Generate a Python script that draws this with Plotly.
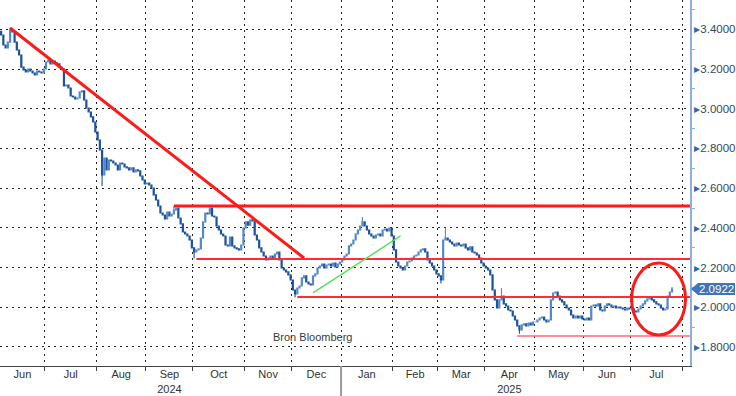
import numpy as np
import pandas as pd
import plotly.graph_objects as go

START = "2024-06-03"
END = "2025-07-25"

# daily closes per month (trading days)
jun24 = [3.372, 3.321, 3.306, 3.336, 3.397, 3.387, 3.336, 3.296, 3.271, 3.210,
         3.195, 3.185, 3.200, 3.190, 3.180, 3.170, 3.190, 3.185, 3.180, 3.200]
jul24 = [3.236, 3.244, 3.226, 3.241, 3.231, 3.226, 3.210, 3.200, 3.115, 3.120,
         3.105, 3.064, 3.059, 3.049, 3.054, 3.085, 3.090, 3.044, 3.004, 2.984,
         2.959, 2.933, 2.883]
aug24 = [2.843, 2.792, 2.666, 2.752, 2.692, 2.742, 2.737, 2.727, 2.717, 2.692,
         2.727, 2.722, 2.707, 2.702, 2.692, 2.702, 2.682, 2.692, 2.687, 2.661,
         2.641, 2.621]
sep24 = [2.626, 2.616, 2.601, 2.566, 2.540, 2.510, 2.475, 2.465, 2.445, 2.480,
         2.460, 2.470, 2.490, 2.500, 2.450, 2.420, 2.379, 2.369, 2.359, 2.339,
         2.299]
oct24 = [2.278, 2.289, 2.294, 2.349, 2.430, 2.475, 2.470, 2.500, 2.460, 2.455,
         2.409, 2.389, 2.369, 2.359, 2.314, 2.309, 2.354, 2.309, 2.299, 2.294,
         2.289, 2.314, 2.399]
nov24 = [2.430, 2.414, 2.440, 2.435, 2.364, 2.339, 2.299, 2.278, 2.258, 2.238,
         2.248, 2.258, 2.248, 2.268, 2.278, 2.238, 2.198, 2.188, 2.178, 2.163,
         2.137]
dec24 = [2.087, 2.067, 2.097, 2.107, 2.148, 2.158, 2.127, 2.117, 2.112, 2.158,
         2.168, 2.198, 2.208, 2.218, 2.198, 2.213, 2.218, 2.208, 2.223, 2.203,
         2.218, 2.228]
jan25 = [2.238, 2.258, 2.268, 2.309, 2.319, 2.339, 2.369, 2.389, 2.409, 2.430,
         2.409, 2.389, 2.369, 2.359, 2.349, 2.364, 2.369, 2.359, 2.389, 2.394,
         2.384, 2.399, 2.359]
feb25 = [2.289, 2.228, 2.208, 2.198, 2.188, 2.208, 2.228, 2.233, 2.248, 2.258,
         2.263, 2.278, 2.289, 2.294, 2.278, 2.238, 2.223, 2.208, 2.188, 2.168]
mar25 = [2.158, 2.137, 2.339, 2.349, 2.339, 2.329, 2.319, 2.309, 2.324, 2.314,
         2.309, 2.319, 2.299, 2.289, 2.304, 2.278, 2.273, 2.263, 2.248, 2.223,
         2.208]
apr25 = [2.198, 2.188, 2.163, 2.087, 2.037, 1.996, 2.037, 2.057, 2.017, 2.006,
         1.986, 1.981, 1.956, 1.936, 1.906, 1.886, 1.911, 1.916, 1.906, 1.921,
         1.911, 1.926]
may25 = [1.926, 1.936, 1.946, 1.951, 1.936, 1.926, 1.936, 2.037, 2.072, 2.077,
         2.057, 2.037, 2.027, 2.011, 1.996, 1.986, 1.961, 1.946, 1.956, 1.946,
         1.956, 1.941]
jun25 = [1.936, 1.946, 1.936, 2.006, 2.011, 2.006, 2.017, 1.986, 1.981, 2.006,
         2.017, 2.011, 2.001, 2.006, 1.996, 2.001, 1.996, 1.991, 1.986, 1.996,
         1.991]
jul25 = [1.991, 1.981, 1.976, 1.991, 2.006, 2.017, 2.032, 2.042, 2.047, 2.037,
         2.027, 2.017, 2.011, 1.996, 1.986, 1.991, 2.057, 2.077, 2.0922]

first_open = 3.390
spike_highs = {"2024-06-07": 3.410, "2024-09-18": 2.512, "2024-10-10": 2.518,
               "2025-01-14": 2.455, "2025-03-06": 2.400, "2025-04-10": 2.097,
               "2025-07-25": 2.102}
spike_lows = {"2024-08-05": 2.611, "2024-10-01": 2.245, "2024-12-03": 2.050,
              "2025-03-04": 2.120, "2025-04-22": 1.866}

closes = (jun24 + jul24 + aug24 + sep24 + oct24 + nov24 + dec24 + jan25 +
          feb25 + mar25 + apr25 + may25 + jun25 + jul25)
dates = pd.bdate_range(START, END)
assert len(dates) == len(closes), (len(dates), len(closes))

opens = [first_open] + closes[:-1]
highs = [max(o, c) for o, c in zip(opens, closes)]
lows = [min(o, c) for o, c in zip(opens, closes)]
dstr = [d.strftime("%Y-%m-%d") for d in dates]
for d, v in spike_highs.items():
    i = dstr.index(d)
    highs[i] = max(highs[i], v)
for d, v in spike_lows.items():
    i = dstr.index(d)
    lows[i] = min(lows[i], v)


def pos(d):
    return int(np.busday_count(START, pd.Timestamp(d).strftime("%Y-%m-%d")))


xidx = list(range(len(closes)))

# month ticks
bounds = [pos(m) - 0.5 for m in pd.date_range("2024-07-01", "2025-08-01", freq="MS")]
label_months = pd.date_range("2024-06-01", "2025-07-01", freq="MS")
centers, texts = [], []
for m in label_months:
    a = max(pos(m), 0) - 0.5
    b = pos(m + pd.offsets.MonthBegin(1)) - 0.5
    centers.append((a + b) / 2)
    t = m.strftime("%b")
    if m.month == 9 and m.year == 2024:
        t += "<br>2024"
    if m.month == 4 and m.year == 2025:
        t += "<br>2025"
    texts.append(t)

ymaj = [1.8, 2.0, 2.2, 2.4, 2.6, 2.8, 3.0, 3.2, 3.4]
ymin = [1.7, 1.9, 2.1, 2.3, 2.5, 2.7, 2.9, 3.1, 3.3, 3.5]
ytext = ["<span style='color:#2f66b3'>\u25B8</span>%.4f" % v for v in ymaj]

fig = go.Figure(go.Candlestick(
    x=xidx, open=opens, high=highs, low=lows, close=closes,
    increasing=dict(line=dict(color="#5589c6", width=1.1), fillcolor="#9bbde6"),
    decreasing=dict(line=dict(color="#1b549c", width=1.1), fillcolor="#2a64aa"),
    whiskerwidth=0, hoverinfo="skip"))

RED = "#ff1a1a"
right = pos("2025-08-06")
shapes = [
    dict(type="line", x0=pos("2024-06-07"), y0=3.407, x1=pos("2024-12-09"), y1=2.248,
         line=dict(color=RED, width=3)),
    dict(type="line", x0=pos("2024-09-18"), y0=2.510, x1=right, y1=2.510,
         line=dict(color=RED, width=3)),
    dict(type="line", x0=pos("2024-10-02"), y0=2.243, x1=right, y1=2.243,
         line=dict(color="#ff2a3a", width=2)),
    dict(type="line", x0=pos("2024-12-04"), y0=2.052, x1=right, y1=2.052,
         line=dict(color="#ff2a3a", width=2)),
    dict(type="line", x0=pos("2025-04-21"), y0=1.855, x1=right, y1=1.855,
         line=dict(color="#ff6a78", width=1.5)),
    dict(type="line", x0=pos("2024-12-13"), y0=2.072, x1=pos("2025-02-06"), y1=2.359,
         line=dict(color="#5ae05a", width=1.5)),
    dict(type="circle", x0=pos("2025-07-01"), x1=pos("2025-08-04"), y0=1.860, y1=2.223,
         line=dict(color=RED, width=3)),
    dict(type="line", xref="x", yref="paper", x0=pos("2025-01-01") - 0.5, x1=pos("2025-01-01") - 0.5,
         y0=0, y1=-0.085, line=dict(color="#9a9a9a", width=2)),
]
last = closes[-1]
dy = 0.030
shapes.append(dict(type="path", xref="paper", yref="y",
                   path=f"M 1.0015,{last} L 1.0116,{last+dy} L 1.0652,{last+dy} L 1.0652,{last-dy} L 1.0116,{last-dy} Z",
                   fillcolor="#3f74b8", line=dict(width=0)))

fig.update_layout(
    width=736, height=396, margin=dict(l=0, r=46, t=0, b=30, autoexpand=False),
    paper_bgcolor="white", plot_bgcolor="white", showlegend=False,
    font=dict(family="Liberation Sans, Arial, sans-serif", size=11.5, color="#333"),
    shapes=shapes,
    annotations=[
        dict(x=pos("2024-12-13"), y=1.852, text="Bron Bloomberg", showarrow=False,
             font=dict(size=11, color="#3a3a3a")),
        dict(xref="paper", yref="y", x=1.038, y=last, xanchor="center", yanchor="middle",
             text="%.4f" % last, showarrow=False,
             font=dict(size=11.5, color="white")),
    ],
)
fig.update_xaxes(
    range=[-0.5, right], tickmode="array", tickvals=centers, ticktext=texts,
    ticks="", showgrid=False, showline=True, linecolor="#444", linewidth=1,
    zeroline=False, rangeslider_visible=False, automargin=False,
    ticklabelstandoff=-2, tickfont=dict(size=11),
    minor=dict(tickmode="array", tickvals=bounds, ticks="outside", ticklen=4,
               tickcolor="#444", showgrid=True, gridcolor="#222", griddash="2px,4px",
               gridwidth=1),
)
fig.update_yaxes(
    side="right", range=[1.704, 3.548], tickmode="array", tickvals=ymaj, ticktext=ytext,
    ticks="", showgrid=True, gridcolor="#222", griddash="2px,4px", gridwidth=1,
    showline=True, linecolor="#8db0dc", linewidth=2, zeroline=False, automargin=False,
    tickfont=dict(color="#34495e"), ticklabelstandoff=0,
    minor=dict(tickmode="array", tickvals=ymin, ticks="outside", ticklen=3,
               tickcolor="#8db0dc", showgrid=False),
)
fig.write_html("out.html", config={"displayModeBar": False},
               post_script="document.body.style.margin='0';document.body.style.overflow='hidden';")
